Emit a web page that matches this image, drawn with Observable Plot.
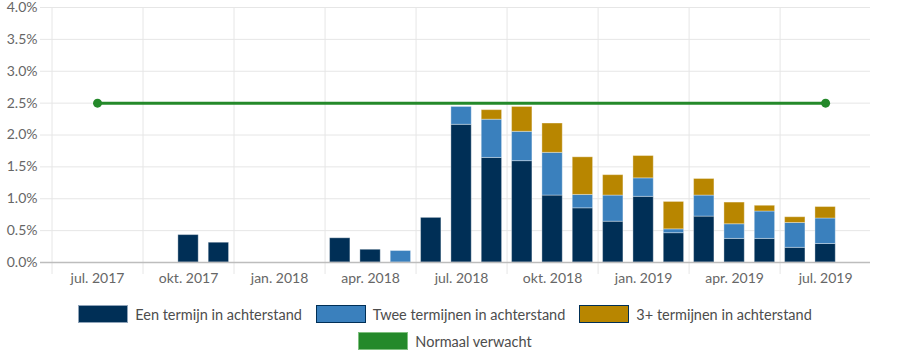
<!DOCTYPE html>
<html>
<head>
<meta charset="utf-8">
<script src="https://cdn.jsdelivr.net/npm/d3@7"></script>
<script src="https://cdn.jsdelivr.net/npm/@observablehq/plot@0.6"></script>
<style>
  html, body { margin: 0; padding: 0; background: #fff; }
  body { width: 900px; height: 360px; overflow: hidden; font-family: Lato, "Open Sans", sans-serif; }
  #legend { width: 890px; padding-right: 10px; font-family: Lato, sans-serif; font-size: 14.5px; color: #4d4d4d; }
  .row { display: flex; justify-content: center; align-items: center; height: 18px; margin-top: 10px; }
  .row + .row { margin-top: 9px; }
  .item { display: flex; align-items: center; margin: 0 7px; }
  .sw { width: 48px; height: 16px; margin-right: 7px; box-sizing: content-box; }
</style>
</head>
<body>
<div id="chart"></div>
<div id="legend"></div>
<script>
// ---- data ----
const months = ["jul. 2017","aug. 2017","sep. 2017","okt. 2017","nov. 2017","dec. 2017",
  "jan. 2018","feb. 2018","mrt. 2018","apr. 2018","mei 2018","jun. 2018",
  "jul. 2018","aug. 2018","sep. 2018","okt. 2018","nov. 2018","dec. 2018",
  "jan. 2019","feb. 2019","mrt. 2019","apr. 2019","mei 2019","jun. 2019","jul. 2019"];
const series = ["Een termijn in achterstand", "Twee termijnen in achterstand", "3+ termijnen in achterstand"];
const een  = [0,0,0,0.43,0.31,0,0,0,0.38,0.20,0,0.70,2.16,1.64,1.59,1.05,0.85,0.64,1.03,0.46,0.72,0.37,0.37,0.23,0.29];
const twee = [0,0,0,0,0,0,0,0,0,0,0.18,0,0.28,0.60,0.46,0.67,0.21,0.41,0.29,0.06,0.33,0.23,0.43,0.39,0.40];
const drie = [0,0,0,0,0,0,0,0,0,0,0,0,0,0.15,0.39,0.46,0.59,0.32,0.35,0.43,0.26,0.34,0.09,0.09,0.18];
const normaalLabel = "Normaal verwacht";
const normaal = [2.5, 2.5];
const normaalMonths = ["jul. 2017", "jul. 2019"];
const tickLabels = ["jul. 2017","okt. 2017","jan. 2018","apr. 2018","jul. 2018","okt. 2018","jan. 2019","apr. 2019","jul. 2019"];
const yTicks = [0, 0.5, 1, 1.5, 2, 2.5, 3, 3.5, 4];
const colors = ["#002f56", "#3a80bd", "#b88600"];
const green = "#24892a";

// ---- build table ----
const values = [een, twee, drie];
const rows = [];
months.forEach((m, i) => {
  series.forEach((s, k) => {
    if (values[k][i] > 0) rows.push({i, month: m, series: s, value: values[k][i]});
  });
});
const normRows = normaalMonths.map((m, k) => ({i: months.indexOf(m), value: normaal[k]}));
const labelTicks = tickLabels.map(l => months.indexOf(l));
const boundaries = labelTicks.map(i => i - 1.5);

const plot = Plot.plot({
  width: 900,
  height: 295,
  marginTop: 7,
  marginLeft: 40,
  marginRight: 30,
  marginBottom: 33,
  style: {fontFamily: "Lato, sans-serif", fontSize: "14px", background: "#fff"},
  x: {type: "linear", domain: [-1.88, 25.48]},
  y: {domain: [0, 4]},
  color: {domain: series, range: colors},
  marks: [
    Plot.gridY({ticks: yTicks, stroke: "#e6e6e6", strokeOpacity: 1}),
    Plot.gridX({ticks: boundaries, stroke: "#e6e6e6", strokeOpacity: 1}),
    Plot.axisX({ticks: boundaries, tickSize: 12, stroke: "#e6e6e6", tickFormat: () => "", label: null}),
    Plot.axisX({ticks: labelTicks, tickSize: 0, tickPadding: 11, tickFormat: i => months[i], fill: "#666", fontSize: 14, label: null}),
    Plot.axisY({ticks: yTicks, tickSize: 0, tickPadding: 3, tickFormat: d => d.toFixed(1) + "%", fill: "#666", fontSize: 14, label: null}),
    Plot.rectY(rows, {
      x1: d => d.i - 0.5, x2: d => d.i + 0.5, y: "value", fill: "series",
      insetLeft: 5, insetRight: 5, stroke: "#fff", strokeOpacity: 0.35, strokeWidth: 1
    }),
    Plot.ruleY([0], {stroke: "#bdbdbd", strokeWidth: 1.5}),
    Plot.line(normRows, {x: "i", y: "value", stroke: green, strokeWidth: 3}),
    Plot.dot(normRows, {x: "i", y: "value", fill: green, r: 4.5})
  ]
});
document.getElementById("chart").append(plot);

// ---- legend ----
const legendItems = [
  [{label: series[0], fill: colors[0], border: "#8fa3b8"},
   {label: series[1], fill: colors[1], border: "#002f56"},
   {label: series[2], fill: colors[2], border: "#002f56"}],
  [{label: normaalLabel, fill: green, border: "#7fc07f"}]
];
const legend = d3.select("#legend");
legendItems.forEach(r => {
  const row = legend.append("div").attr("class", "row");
  r.forEach(it => {
    const item = row.append("div").attr("class", "item");
    item.append("div").attr("class", "sw")
      .style("background", it.fill)
      .style("border", `1px solid ${it.border}`);
    item.append("span").text(it.label);
  });
});
</script>
</body>
</html>
